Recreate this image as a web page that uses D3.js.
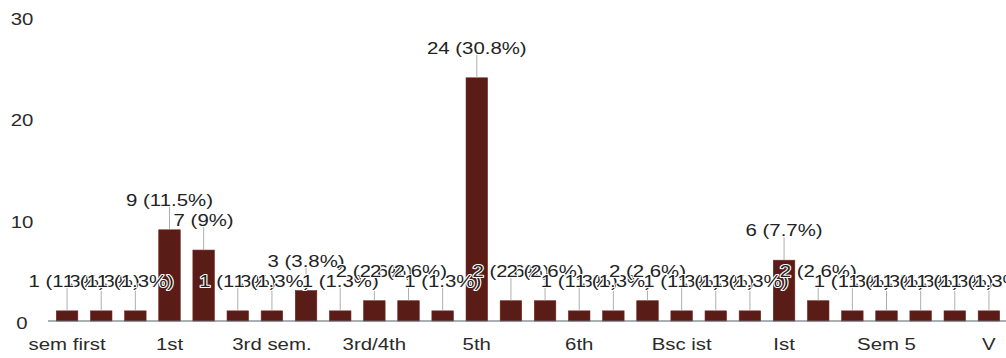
<!DOCTYPE html>
<html>
<head>
<meta charset="utf-8">
<script src="https://cdn.jsdelivr.net/npm/d3@7"></script>
<style>
  html, body { margin: 0; padding: 0; background: #fff; }
  svg { display: block; font-family: "Liberation Sans", Arial, sans-serif; }
</style>
</head>
<body>
<svg id="chart" width="1006" height="358"></svg>
<script>
// ---- data ----
const categories = [
  "sem first", "1", "1 st", "1st", "1st sem", "2nd", "3rd sem.", "3rd", "3rd semester",
  "3rd/4th", "4th", "4th sem", "5th", "5th sem", "5th semester", "6th", "6th sem", "7th",
  "Bsc ist", "Final", "First", "Ist", "IInd", "Sem 1", "Sem 5", "Semester 5", "Third", "V"
];
const counts = [
  1, 1, 1, 9, 7, 1, 1, 3, 1,
  2, 2, 1, 24, 2, 2, 1, 1, 2,
  1, 1, 1, 6, 2, 1, 1, 1, 1, 1
];
const yTicks = [0, 10, 20, 30];
const shownLabelEvery = 3;

// ---- layout ----
const W = 1006, H = 358;
const total = d3.sum(counts);
const data = categories.map((c, i) => ({ cat: c, n: counts[i], pct: counts[i] / total * 100 }));

const x = d3.scaleBand().domain(categories).range([50, W]).paddingInner(0.37).paddingOuter(0.185);
const y = d3.scaleLinear().domain([0, 30]).range([321, 17]);

const svg = d3.select("#chart");
const SX = 1.2; // horizontal text stretch
const fs = 17;

// bars
svg.append("g").selectAll("rect").data(data).join("rect")
  .attr("x", d => x(d.cat))
  .attr("width", x.bandwidth())
  .attr("y", d => y(d.n))
  .attr("height", d => y(0) - y(d.n))
  .attr("fill", "#5a1c17")
  .attr("stroke", "#6e2520")
  .attr("stroke-width", 0.6);

// x axis
const xAxis = svg.append("g").attr("transform", `translate(0,${y(0)})`)
  .call(d3.axisBottom(x)
    .tickValues(categories.filter((c, i) => i % shownLabelEvery === 0))
    .tickSize(0).tickPadding(17));
xAxis.select(".domain").remove();
xAxis.selectAll("text")
  .attr("font-size", fs).attr("fill", "#2a2a2a")
  .attr("font-family", "Liberation Sans, Arial, sans-serif")
  .attr("transform", `scale(${SX},1)`);
svg.append("line")
  .attr("x1", x.range()[0] - 2).attr("x2", x.range()[1])
  .attr("y1", y(0)).attr("y2", y(0))
  .attr("stroke", "#56606a").attr("stroke-width", 1.2);

// y axis
const yAxis = svg.append("g").attr("transform", "translate(22,2)")
  .call(d3.axisLeft(y).tickValues(yTicks).tickSize(0).tickPadding(0));
yAxis.select(".domain").remove();
yAxis.selectAll("text")
  .attr("text-anchor", "middle").attr("x", 0)
  .attr("font-size", fs).attr("fill", "#2a2a2a")
  .attr("font-family", "Liberation Sans, Arial, sans-serif")
  .attr("transform", `scale(${SX},1)`);

// leader segments
const labelGap = 30;
svg.append("g").selectAll("line").data(data).join("line")
  .attr("x1", d => x(d.cat) + x.bandwidth() / 2)
  .attr("x2", d => x(d.cat) + x.bandwidth() / 2)
  .attr("y1", d => y(d.n))
  .attr("y2", d => y(d.n) - labelGap + 7)
  .attr("stroke", "#9a9a9a").attr("stroke-width", 0.8);

// labels
const fmtPct = p => { const r = Math.round(p * 10) / 10; return (r % 1 === 0 ? r.toFixed(0) : r.toFixed(1)) + "%"; };
const lab = svg.append("g");
data.forEach(d => {
  lab.append("text")
    .attr("transform", `translate(${x(d.cat) + x.bandwidth() / 2},${y(d.n) - labelGap}) scale(${SX},1)`)
    .attr("text-anchor", "middle").attr("dy", "0.35em")
    .attr("font-size", fs).attr("fill", "#222")
    .attr("stroke", "#fff").attr("stroke-width", 2).attr("stroke-linejoin", "round")
    .attr("paint-order", "stroke")
    .text(`${d.n} (${fmtPct(d.pct)})`);
});
</script>
</body>
</html>
